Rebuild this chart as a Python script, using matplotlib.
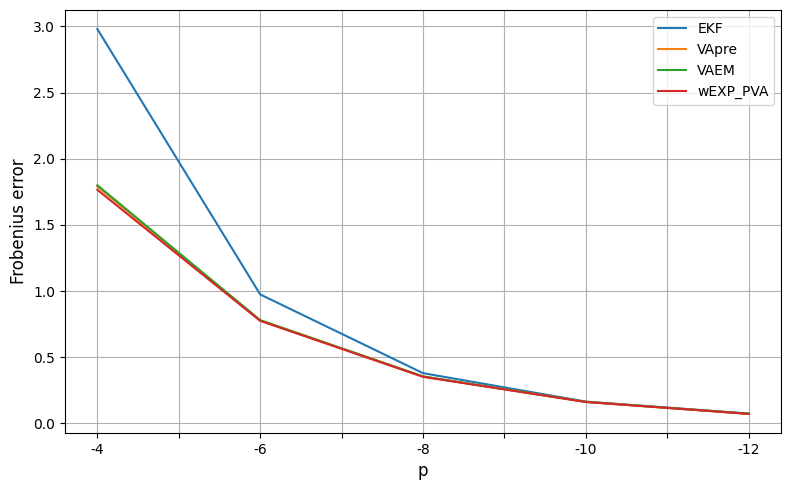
import matplotlib
matplotlib.use('Agg')
import matplotlib.pyplot as plt
import numpy as np

p_labels = ['-4', '-6', '-8', '-10', '-12']
ekf = [2.98, 0.975, 0.38, 0.165, 0.075]
vapre = [1.79, 0.78, 0.355, 0.163, 0.073]
vaem = [1.80, 0.78, 0.355, 0.163, 0.073]
wexp_pva = [1.765, 0.775, 0.352, 0.162, 0.072]

x = np.arange(len(p_labels))

fig, ax = plt.subplots(figsize=(7.9, 4.9), dpi=100)
ax.plot(x, ekf, label='EKF')
ax.plot(x, vapre, label='VApre')
ax.plot(x, vaem, label='VAEM')
ax.plot(x, wexp_pva, label='wEXP_PVA')

ticks = np.arange(0, len(p_labels) - 0.5, 0.5)
ax.set_xticks(ticks)
ax.set_xticklabels([p_labels[int(t)] if t == int(t) else '' for t in ticks])
ax.set_xlabel('p', fontsize=12)
ax.set_ylabel('Frobenius error', fontsize=12)
ax.grid(True)
ax.legend(loc='upper right')
fig.subplots_adjust(left=0.082, right=0.989, top=0.98, bottom=0.116)
fig.savefig('out.png', dpi=100)
